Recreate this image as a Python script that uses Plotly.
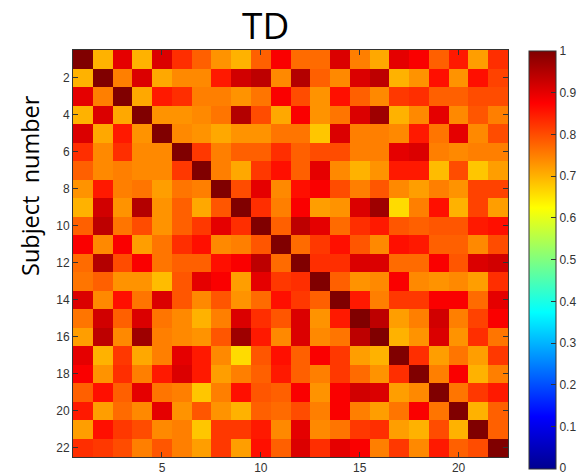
import plotly.graph_objects as go

subjects = list(range(1, 23))

corr = [
    [1.00,0.70,0.90,0.70,0.91,0.83,0.78,0.73,0.70,0.78,0.88,0.77,0.77,0.91,0.75,0.71,0.90,0.88,0.78,0.85,0.72,0.83],
    [0.70,1.00,0.75,0.91,0.71,0.74,0.74,0.85,0.92,0.94,0.74,0.95,0.78,0.74,0.91,0.94,0.70,0.73,0.86,0.73,0.86,0.81],
    [0.90,0.75,1.00,0.71,0.85,0.83,0.75,0.75,0.73,0.76,0.88,0.80,0.73,0.86,0.78,0.74,0.82,0.83,0.78,0.78,0.80,0.80],
    [0.70,0.91,0.71,1.00,0.73,0.73,0.74,0.76,0.95,0.80,0.71,0.88,0.73,0.76,0.91,0.97,0.70,0.74,0.90,0.74,0.79,0.75],
    [0.91,0.71,0.85,0.73,1.00,0.74,0.73,0.71,0.73,0.73,0.76,0.76,0.68,0.91,0.75,0.75,0.74,0.85,0.76,0.90,0.74,0.80],
    [0.83,0.74,0.83,0.74,0.74,1.00,0.82,0.75,0.78,0.78,0.83,0.78,0.80,0.80,0.75,0.75,0.90,0.91,0.75,0.74,0.75,0.75],
    [0.78,0.74,0.75,0.74,0.74,0.82,1.00,0.75,0.71,0.82,0.86,0.78,0.90,0.74,0.70,0.73,0.85,0.85,0.69,0.80,0.68,0.72],
    [0.73,0.85,0.75,0.76,0.72,0.76,0.75,1.00,0.80,0.90,0.74,0.86,0.88,0.80,0.75,0.79,0.74,0.72,0.75,0.73,0.81,0.81],
    [0.70,0.92,0.73,0.95,0.73,0.78,0.71,0.79,1.00,0.83,0.75,0.88,0.72,0.73,0.91,0.97,0.66,0.75,0.86,0.70,0.81,0.72],
    [0.78,0.94,0.76,0.80,0.73,0.78,0.82,0.90,0.83,1.00,0.78,0.94,0.90,0.77,0.83,0.85,0.79,0.78,0.79,0.79,0.85,0.86],
    [0.88,0.74,0.88,0.72,0.76,0.83,0.86,0.74,0.75,0.79,1.00,0.77,0.82,0.86,0.79,0.74,0.86,0.85,0.78,0.78,0.74,0.80],
    [0.77,0.95,0.80,0.88,0.76,0.78,0.78,0.86,0.88,0.94,0.77,1.00,0.83,0.83,0.91,0.91,0.77,0.77,0.88,0.79,0.91,0.92],
    [0.76,0.78,0.73,0.73,0.69,0.79,0.90,0.88,0.72,0.90,0.82,0.83,1.00,0.78,0.73,0.74,0.88,0.74,0.73,0.74,0.72,0.83],
    [0.91,0.74,0.86,0.76,0.91,0.79,0.74,0.79,0.73,0.77,0.86,0.82,0.78,1.00,0.85,0.75,0.82,0.82,0.88,0.88,0.77,0.90],
    [0.76,0.92,0.78,0.91,0.76,0.74,0.70,0.75,0.91,0.83,0.79,0.91,0.73,0.85,1.00,0.94,0.72,0.75,0.92,0.75,0.81,0.88],
    [0.72,0.94,0.74,0.97,0.75,0.74,0.73,0.79,0.97,0.85,0.74,0.91,0.74,0.76,0.94,1.00,0.70,0.73,0.91,0.73,0.83,0.76],
    [0.90,0.70,0.82,0.71,0.75,0.90,0.85,0.74,0.66,0.79,0.86,0.78,0.88,0.82,0.72,0.70,1.00,0.83,0.72,0.76,0.72,0.82],
    [0.88,0.73,0.83,0.75,0.85,0.91,0.85,0.72,0.75,0.78,0.85,0.78,0.75,0.82,0.77,0.73,0.83,1.00,0.75,0.88,0.70,0.75],
    [0.78,0.86,0.78,0.90,0.76,0.75,0.68,0.75,0.86,0.79,0.78,0.88,0.73,0.88,0.92,0.91,0.72,0.74,1.00,0.76,0.82,0.85],
    [0.85,0.72,0.77,0.74,0.90,0.73,0.79,0.73,0.70,0.78,0.77,0.80,0.75,0.88,0.75,0.72,0.76,0.88,0.76,1.00,0.70,0.78],
    [0.72,0.86,0.82,0.80,0.74,0.75,0.68,0.82,0.82,0.85,0.74,0.90,0.74,0.76,0.82,0.83,0.72,0.70,0.80,0.70,1.00,0.78],
    [0.83,0.82,0.80,0.75,0.79,0.75,0.72,0.82,0.72,0.86,0.78,0.91,0.83,0.90,0.88,0.75,0.82,0.74,0.85,0.78,0.80,1.00],
]

x_ticks = [5, 10, 15, 20]
y_ticks = [2, 4, 6, 8, 10, 12, 14, 16, 18, 20, 22]
cbar_ticks = [0, 0.1, 0.2, 0.3, 0.4, 0.5, 0.6, 0.7, 0.8, 0.9, 1]

jet = [
    [0.0, "rgb(0,0,143)"],
    [0.125, "rgb(0,0,255)"],
    [0.375, "rgb(0,255,255)"],
    [0.625, "rgb(255,255,0)"],
    [0.875, "rgb(255,0,0)"],
    [1.0, "rgb(128,0,0)"],
]

W, H = 577, 476
L, R, T, B = 73, 508, 50, 457

fig = go.Figure(go.Heatmap(
    z=corr, x=subjects, y=subjects,
    zmin=-0.002, zmax=1.0, colorscale=jet,
    xgap=0, ygap=0,
    colorbar=dict(
        x=(529 - L) / (R - L), xanchor="left",
        y=(B - 260) / (B - T), yanchor="middle",
        lenmode="pixels", len=418,
        thicknessmode="pixels", thickness=27,
        tickvals=cbar_ticks,
        ticktext=[("%g" % v) for v in cbar_ticks],
        ticks="inside", ticklen=5, tickcolor="#333",
        outlinecolor="#333", outlinewidth=1,
        tickfont=dict(family="Liberation Sans, Arial", size=12, color="#333"),
        xpad=0, ypad=0,
    ),
))

axis_common = dict(
    showgrid=False, zeroline=False,
    ticks="inside", ticklen=5, tickcolor="#333",
    showline=True, linecolor="#333", linewidth=1, mirror="ticks",
    tickfont=dict(family="Liberation Sans, Arial", size=12, color="#333"),
)

fig.update_layout(
    width=W, height=H,
    margin=dict(l=L, r=W - R, t=T, b=H - B, autoexpand=False),
    paper_bgcolor="white", plot_bgcolor="white",
    xaxis=dict(range=[0.5, 22.5], tickvals=x_ticks, **axis_common),
    yaxis=dict(range=[22.5, 0.5], tickvals=y_ticks, **axis_common),
    annotations=[
        dict(text="TD", xref="paper", yref="paper",
             x=(265 - L) / (R - L), y=(B - 24) / (B - T),
             xanchor="center", yanchor="middle", showarrow=False,
             font=dict(family="Open Sans", size=37, color="black")),
        dict(text="Subject  number", xref="paper", yref="paper",
             x=(30 - L) / (R - L), y=(B - 186) / (B - T),
             xanchor="center", yanchor="middle", showarrow=False, textangle=-90,
             font=dict(family="Open Sans", size=23.5, color="black")),
    ],
)

fig.write_html("out.html")
